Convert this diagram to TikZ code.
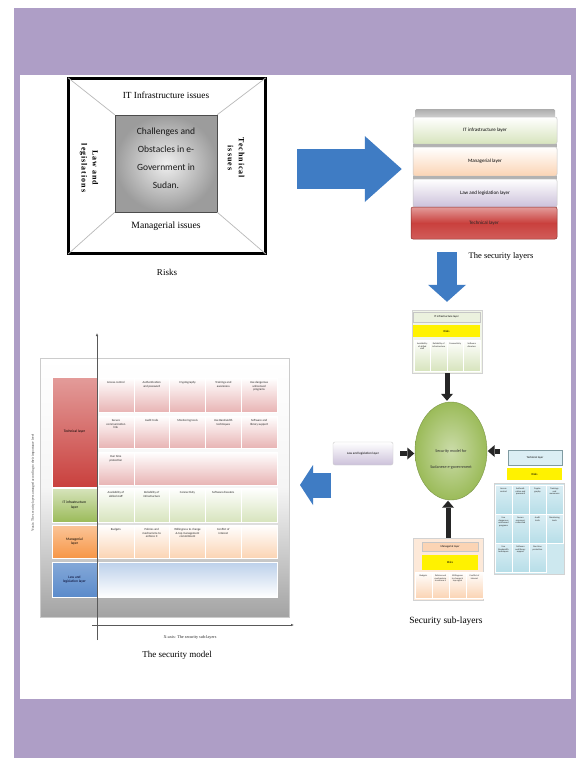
\documentclass[tikz,border=0pt]{standalone}
\usepackage{fontspec}
\setmainfont{Liberation Serif}
\newfontfamily\cellfont{Carlito}
\usetikzlibrary{arrows.meta,shapes.geometric,calc}

\newcommand{\setfs}[2]{\fontsize{#1}{#2}\selectfont}

\definecolor{framepurple}{HTML}{AE9EC6}
\definecolor{arrowblue}{HTML}{3F7CC4}
\definecolor{greenL}{HTML}{D7E4BD}
\definecolor{greenP}{HTML}{EBF1DE}
\definecolor{greenM}{HTML}{9BBB59}
\definecolor{peach}{HTML}{FBD4B4}
\definecolor{peachP}{HTML}{FDE9D9}
\definecolor{orangeM}{HTML}{F79646}
\definecolor{lav}{HTML}{CCC1DA}
\definecolor{redM}{HTML}{C9403D}
\definecolor{redL}{HTML}{E39C9A}
\definecolor{pinkL}{HTML}{E8B4B4}
\definecolor{aqua}{HTML}{B7DEE8}
\definecolor{aquaP}{HTML}{DBEEF4}
\definecolor{blueM}{HTML}{5B8BCB}
\definecolor{blueL}{HTML}{BCD0EA}

\tikzset{
  bigarrow/.style={draw=arrowblue, line width=#1},
  blacklink/.style={draw=black!85, line width=5pt,
    -{Triangle[width=12pt,length=7pt,line width=0pt]}},
  axisline/.style={draw=black!65, line width=0.6pt},
  caption/.style={font=\setfs{9}{11}, inner sep=0pt},
  sidetext/.style={font={\bfseries\addfontfeature{LetterSpace=12}\setfs{8}{11}},
    align=center, inner sep=0pt},
  layerbox/.style={rectangle, rounded corners=2pt, minimum width=144pt,
    inner sep=0pt, draw=gray!45, line width=0.5pt,
    font=\cellfont\setfs{5}{6}},
  tinytext/.style={font=\cellfont\setfs{3}{3.5}, align=center, inner sep=0pt,
    text=black!85},
  microtext/.style={font=\cellfont\setfs{2.3}{2.7}, align=center, inner sep=0pt,
    text=black!85},
  mcell/.style={rectangle, minimum width=35.8pt, inner sep=0pt, draw=white,
    line width=0.6pt},
  mlabel/.style={rectangle, minimum width=45pt, inner sep=0.5pt, align=center,
    draw=white, line width=0.6pt, font=\cellfont\setfs{3.6}{4.3}},
  subpanel/.style={rectangle, inner sep=0pt, draw=gray!35, line width=0.4pt},
  subhead/.style={rectangle, inner sep=0pt, draw=gray!45, line width=0.4pt,
    font=\cellfont\setfs{2.8}{3.2}},
  riskband/.style={rectangle, inner sep=0pt, fill=yellow,
    font=\cellfont\setfs{3}{3.5}},
  scell/.style={rectangle, inner sep=0pt, draw=white, line width=0.5pt},
}

\begin{document}
\begin{tikzpicture}[x=1pt,y=-1pt]
\useasboundingbox (0,0) rectangle (576,758);
% page frame
\fill[white] (0,0) rectangle (576,758);
\fill[framepurple] (14,8) rectangle (576,758);
\fill[white] (20,75) rectangle (571,699);

% ---------------- Risks ----------------
\node[draw=black, line width=3.4pt, fill=white, minimum width=197pt,
  minimum height=175pt, inner sep=0pt] (risks) at (167,166) {};
\node[draw=gray!60!black, line width=0.6pt, minimum width=102pt,
  minimum height=97pt, inner sep=0pt, inner color=gray!12,
  outer color=gray!78] (core) at (166,163.5) {};
\draw[gray!55, line width=0.7pt, shorten <=1.8pt] (risks.north west) -- (core.north west);
\draw[gray!55, line width=0.7pt, shorten <=1.8pt] (risks.north east) -- (core.north east);
\draw[gray!55, line width=0.7pt, shorten <=1.8pt] (risks.south west) -- (core.south west);
\draw[gray!55, line width=0.7pt, shorten <=1.8pt] (risks.south east) -- (core.south east);
\node[font=\cellfont\setfs{9.5}{18}, align=center, text=black!90, inner sep=0pt]
  (coretext) at (166,158) {Challenges and\\Obstacles in e-\\Government in\\Sudan.};
\node[font=\setfs{9.3}{11}, inner sep=0pt] (itissue) at (166,95) {IT Infrastructure issues};
\node[font=\setfs{9.6}{11}, inner sep=0pt] (manissue) at (166,226) {Managerial issues};
\node[sidetext, rotate=-90] (lawissue) at (89,168) {Law and\\legislations};
\node[sidetext, rotate=-90] (techissue) at (236,158) {Technical\\issues};
\node[caption] (riskcap) at (167,272) {Risks};

% ---------------- security layers stack ----------------
\shade[top color=gray!65, bottom color=gray!35, rounded corners=1.5pt]
  (415,109) rectangle (555,118);
\node[layerbox, minimum height=27pt, top color=white, bottom color=greenL]
  (lIT) at (485,130.5) {IT infrastructure layer};
\fill[gray!60] (413,144) rectangle (557,147);
\node[layerbox, minimum height=29pt, top color=white, bottom color=peach]
  (lMan) at (485,161.5) {Managerial layer};
\fill[gray!60] (413,176) rectangle (557,179);
\node[layerbox, minimum height=28pt, top color=white, bottom color=lav]
  (lLaw) at (485,193) {Law and legislation layer};
\node[layerbox, minimum height=32pt, minimum width=146pt, draw=redM!70!black,
  top color=redL, bottom color=redM!85, middle color=redM, text=black!85]
  (lTech) at (484,223) {Technical layer};
\node[caption, font=\setfs{8.5}{10}] (laycap) at (501,256) {The security layers};

% big arrow from risks to the layer stack
\draw[bigarrow=40pt, -{Triangle[width=66pt,length=37pt,line width=0pt]}]
  ($(risks.east)+(30,3)$) -- ($(risks.east -| lMan.west)+(-11,3)$);

% ---------------- sub-layers ----------------
% IT infrastructure sub-layer
\node[subpanel, fill=greenP!70, minimum width=70pt, minimum height=63pt]
  (itsub) at (447,341.5) {};
\node[subhead, fill=greenP, minimum width=67pt, minimum height=10pt]
  (ithead) at (446.5,317) {IT infrastructure layer};
\node[riskband, minimum width=67pt, minimum height=12pt]
  (itrisk) at (446.5,331) {Risks};
\foreach \t [count=\i from 0] in {{Availability\\of skilled\\staff},{Reliability of\\infrastructure},{Connectivity},{Software\\disasters}}{
  \node[scell, top color=white, bottom color=greenL, minimum width=16.5pt,
    minimum height=31pt] (itc\i) at ({422.25+16.5*\i},355.5) {};
  \node[microtext, anchor=north] at ([yshift=-3pt]itc\i.north) {\t};
}
% blue arrow from the stack to the sub-layers
\draw[bigarrow=20pt, -{Triangle[width=38pt,length=17pt,line width=0pt]},
  shorten <=13pt, shorten >=8pt] (lTech.south -| itsub.north) -- (itsub.north);

% central model
\node[ellipse, minimum width=72pt, minimum height=98pt, inner sep=0pt,
  inner color=greenL!80!greenM, outer color=greenM, draw=greenM!80!black,
  line width=0.4pt] (model) at (451,451) {};
\node[font=\cellfont\setfs{4.2}{16}, align=center, text=black!80, inner sep=0pt]
  (modeltext) at (451,459) {Security model for\\Sudanese e-government};

% Law and legislation sub-layer
\node[rectangle, rounded corners=2pt, minimum width=60pt, minimum height=23pt,
  inner sep=0pt, draw=gray!40, line width=0.4pt, top color=white,
  bottom color=lav, font=\cellfont\setfs{3.2}{3.8}]
  (lawsub) at (363,453.5) {Law and legislation layer};

% Technical sub-layer
\node[subhead, fill=aquaP, draw=aqua!70!black, minimum width=54pt, minimum height=15pt]
  (techhead) at (535,457.5) {Technical layer};
\node[riskband, minimum width=55pt, minimum height=12pt]
  (techrisk) at (534.5,474) {Risks};
\node[subpanel, fill=aqua!70, minimum width=70pt, minimum height=91pt]
  (techsub) at (529,528.5) {};
\foreach \t [count=\i from 0] in {{Access\\control},{Authenti-\\cation and\\password},{Crypto-\\graphy},{Trainings\\and\\awareness}}{
  \node[scell, top color=aquaP, bottom color=aqua, minimum width=17pt,
    minimum height=29pt] (tca\i) at ({503.5+17*\i},499.5) {};
  \node[microtext, anchor=north] at ([yshift=-3pt]tca\i.north) {\t};
}
\foreach \t [count=\i from 0] in {{Use\\dangerous\\unlicensed\\programs},{Secure\\communi-\\cation link},{Audit\\trails},{Monitoring\\tools}}{
  \node[scell, top color=aquaP, bottom color=aqua, minimum width=17pt,
    minimum height=29pt] (tcb\i) at ({503.5+17*\i},528.5) {};
  \node[microtext, anchor=north] at ([yshift=-3pt]tcb\i.north) {\t};
}
\foreach \t [count=\i from 0] in {{Use\\Bandwidth\\techniques},{Software\\and library\\support},{Run time\\protection}}{
  \node[scell, top color=aquaP, bottom color=aqua, minimum width=17pt,
    minimum height=29pt] (tcc\i) at ({503.5+17*\i},557.5) {};
  \node[microtext, anchor=north] at ([yshift=-3pt]tcc\i.north) {\t};
}

% Managerial sub-layer
\node[subpanel, fill=peachP, minimum width=70pt, minimum height=62pt]
  (mansub) at (448,569) {};
\node[subhead, fill=peach, minimum width=56pt, minimum height=9pt]
  (manhead) at (450,546.5) {Managerial layer};
\node[riskband, minimum width=56pt, minimum height=15pt]
  (manrisk) at (450,562.5) {Risks};
\foreach \t [count=\i from 0] in {{Budgets},{Policies and\\mechanisms\\to enforce it},{Willingness\\to change \&\\top mgmt},{Conflict of\\interest}}{
  \node[scell, top color=white, bottom color=peach, minimum width=17pt,
    minimum height=26pt] (mc\i) at ({423.5+17*\i},585) {};
  \node[microtext, anchor=north] at ([yshift=-3pt]mc\i.north) {\t};
}
\node[caption, font=\setfs{9.5}{11}] (subcap) at (446,621) {Security sub-layers};

% black arrows into the model
\draw[blacklink, shorten >=1pt] (itsub.south) -- (itsub.south |- model.north);
\draw[blacklink, shorten <=7pt, shorten >=0.5pt] (lawsub.east) -- (lawsub.east -| model.west);
\draw[blacklink, shorten <=8pt, shorten >=0.5pt] (techhead.west |- model.east) -- (model.east);
\draw[blacklink, shorten >=0.5pt] (mansub.north) -- (mansub.north |- model.south);

% blue arrow from the sub-layers to the model grid
\coordinate (backtail) at (331,485);
\coordinate (backtip) at (300,485);
\draw[bigarrow=25pt, -{Triangle[width=40pt,length=13pt,line width=0pt]}]
  (backtail) -- (backtip);

% ---------------- security model grid ----------------
\node[draw=gray!40, line width=0.5pt, minimum width=249pt, minimum height=259pt,
  inner sep=0pt, top color=white, bottom color=gray!72, middle color=gray!8]
  (mframe) at (164.5,487.5) {};

% row labels
\node[mlabel, minimum height=110pt, top color=redL, bottom color=redM]
  (mTech) at (74.5,432) {Technical layer};
\node[mlabel, minimum height=34pt, top color=greenL, bottom color=greenM]
  (mIT) at (74.5,505) {IT infrastructure\\layer};
\node[mlabel, minimum height=33pt, top color=orangeM!55, bottom color=orangeM]
  (mMan) at (74.5,541.5) {Managerial\\layer};
\node[mlabel, minimum height=35pt, top color=blueM!75, bottom color=blueM, text=black!85!blue]
  (mLaw) at (74.5,579.5) {Law and\\legislation layer};

% technical rows
\foreach \t [count=\i from 0] in {{Access control},{Authentication\\and password},{Cryptography},{Trainings and\\awareness},{Use dangerous\\unlicensed\\programs}}{
  \node[mcell, minimum height=34pt, top color=white, bottom color=pinkL]
    (ta\i) at ({115.9+35.8*\i},395) {};
  \node[tinytext, anchor=north] at ([yshift=-4pt]ta\i.north) {\t};
}
\foreach \t [count=\i from 0] in {{Secure\\communication\\link},{Audit trails},{Monitoring tools},{Use Bandwidth\\techniques},{Software and\\library support}}{
  \node[mcell, minimum height=32pt, top color=white, bottom color=pinkL]
    (tb\i) at ({115.9+35.8*\i},432) {};
  \node[tinytext, anchor=north] at ([yshift=-4pt]tb\i.north) {\t};
}
\node[mcell, minimum height=33pt, top color=white, bottom color=pinkL]
  (tc0) at (115.9,468.5) {};
\node[tinytext, anchor=north] at ([yshift=-4pt]tc0.north) {Run time\\protection};
\node[mcell, minimum height=33pt, minimum width=143.2pt, top color=white,
  bottom color=pinkL] (tc1) at (205.4,468.5) {};

% IT infrastructure row
\foreach \t [count=\i from 0] in {{Availability of\\skilled staff},{Reliability of\\infrastructure},{Connectivity},{Software disasters},{}}{
  \node[mcell, minimum height=34pt, top color=white, bottom color=greenL]
    (ia\i) at ({115.9+35.8*\i},505) {};
  \node[tinytext, anchor=north] at ([yshift=-4pt]ia\i.north) {\t};
}
% managerial row
\foreach \t [count=\i from 0] in {{Budgets},{Policies and\\mechanisms to\\enforce it},{Willingness to change\\\& top management\\commitment},{Conflict of\\interest},{}}{
  \node[mcell, minimum height=33pt, top color=white, bottom color=peach]
    (ma\i) at ({115.9+35.8*\i},541.5) {};
  \node[tinytext, anchor=north] at ([yshift=-4pt]ma\i.north) {\t};
}
% law and legislation row
\node[mcell, minimum height=35pt, minimum width=179pt, top color=blueL,
  bottom color=white] (la0) at (187.5,579.5) {};

% axes
\coordinate (ybase) at (97,640);
\coordinate (ytip) at (97,333);
\coordinate (xbase) at (92,625);
\coordinate (xtip) at (294,625);
\draw[axisline, -{Latex[length=3pt,width=2.5pt]}] (ybase) -- (ytip);
\draw[axisline, -{Latex[length=3pt,width=2.5pt]}] (xbase) -- (xtip);
\node[tinytext, font=\setfs{4.2}{5}] (xlab) at (190,637) {X-axis: The security sub-layers};
\node[tinytext, font=\setfs{3.4}{4}, rotate=90] (ylab) at (33,483)
  {Y-axis: The security layers arranged according to their importance level};
\node[caption] (modelcap) at (177,655) {The security model};
\end{tikzpicture}
\end{document}
